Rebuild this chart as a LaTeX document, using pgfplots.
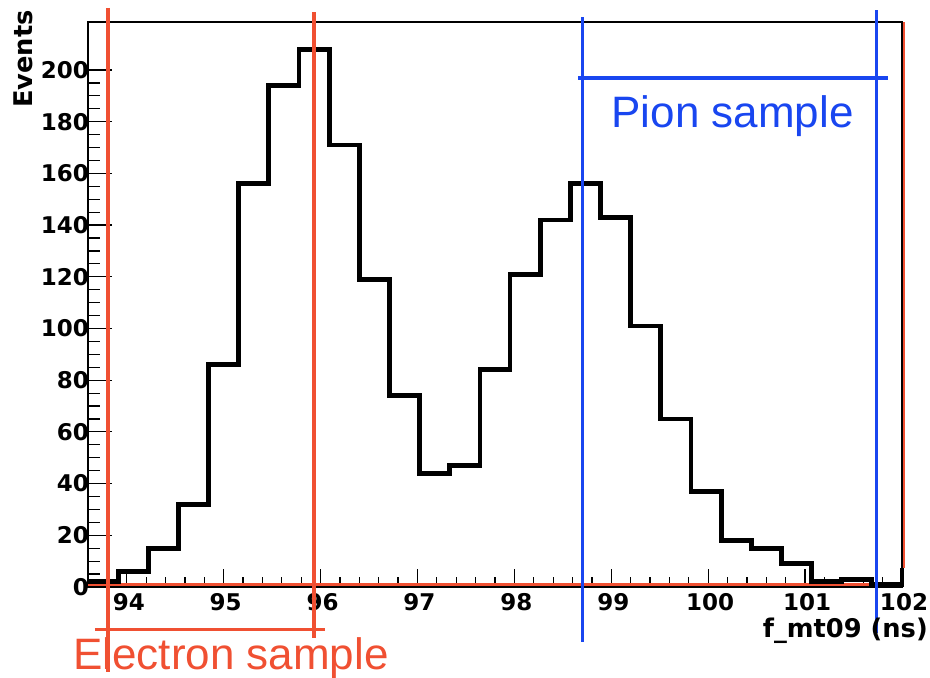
\documentclass[border=0pt]{standalone}
\usepackage{fontspec}
\setmainfont{DejaVu Sans}
\newfontfamily\annfont{Liberation Sans}
\usepackage{pgfplots}
\pgfplotsset{compat=1.18}
\definecolor{cutred}{RGB}{240,80,50}
\definecolor{cutblue}{RGB}{25,70,240}
\pgfplotsset{
  base/.style={
    at={(0pt,0pt)}, anchor=south west,
    scale only axis, width=814pt, height=565pt,
    xmin=93.6, xmax=102, ymin=0, ymax=218.57,
    clip=false,
    axis line style={line width=1.2pt},
    tick align=inside, xtick pos=left, ytick pos=left,
    tick style={black, line width=1.2pt},
    /pgf/number format/assume math mode=true,
    ticklabel style={font=\fontsize{23}{23}\selectfont\bfseries},
    xticklabel style={inner sep=0pt, yshift=-6pt, xshift=2pt},
    yticklabel style={inner sep=0pt, xshift=1pt},
  }
}
\begin{document}
\begin{tikzpicture}
\useasboundingbox (-88pt,-91pt) rectangle (842pt,587pt);
% y ticks only
\begin{axis}[base,
  xtick=\empty,
  ytick={0,20,...,200}, minor y tick num=3,
  major tick length=24pt, minor tick length=12pt,
]
\end{axis}
% main axis with x ticks and data
\begin{axis}[base,
  ytick=\empty,
  xtick={94,95,...,102}, minor x tick num=4,
  major tick length=18pt, minor tick length=10pt,
]
% red (empty) histogram along the bottom
\addplot[cutred, line width=3pt, forget plot] coordinates {(93.6,0.9) (102,0.9)};
% black histogram
\addplot[black, line width=4.8pt, const plot, line join=miter] coordinates {
(93.6,2) (93.9111,6) (94.2222,15) (94.5333,32) (94.8444,86) (95.1556,156)
(95.4667,194) (95.7778,208) (96.0889,171) (96.4,119) (96.7111,74) (97.0222,44)
(97.3333,47) (97.6444,84) (97.9556,121) (98.2667,142) (98.5778,156) (98.8889,143)
(99.2,101) (99.5111,65) (99.8222,37) (100.1333,18) (100.4444,15) (100.7556,9)
(101.0667,2) (101.3778,3) (101.6889,1) (102,1) (102,0)};
\addplot[black, line width=4.5pt] coordinates {(102,0) (102,7.4)};
% electron cuts
\addplot[cutred, line width=3.5pt] coordinates {(93.806,224.0) (93.806,-32.9)};
\addplot[cutred, line width=3.5pt] coordinates {(95.932,222.4) (95.932,-19.7)};
\addplot[cutred, line width=3pt] coordinates {(93.672,-16.6) (96.046,-16.6)};
\addplot[cutred, line width=2pt] coordinates {(102.016,7.4) (102.016,218.57)};
% pion cuts
\addplot[cutblue, line width=3pt] coordinates {(98.708,220.5) (98.708,-21.3)};
\addplot[cutblue, line width=3pt] coordinates {(101.742,223.2) (101.742,-17.8)};
\addplot[cutblue, line width=4pt] coordinates {(98.657,196.9) (101.856,196.9)};
\node[anchor=base, text=cutred, inner sep=0pt, font=\annfont\fontsize{44}{44}\selectfont] at (axis cs:95.076,-32.1) {Electron sample};
\node[anchor=base, text=cutblue, inner sep=0pt, font=\annfont\fontsize{44}{44}\selectfont] at (axis cs:100.251,177.6) {Pion sample};
\node[anchor=base east, inner sep=0pt, font=\fontsize{25.7}{25.7}\selectfont\bfseries] at (axis cs:102.268,-19.35) {f\_mt09 (ns)};
\node[anchor=base east, rotate=90, inner sep=0pt, font=\fontsize{25.7}{25.7}\selectfont\bfseries] at (axis cs:93.032,223.2) {Events};
\end{axis}
\end{tikzpicture}
\end{document}
